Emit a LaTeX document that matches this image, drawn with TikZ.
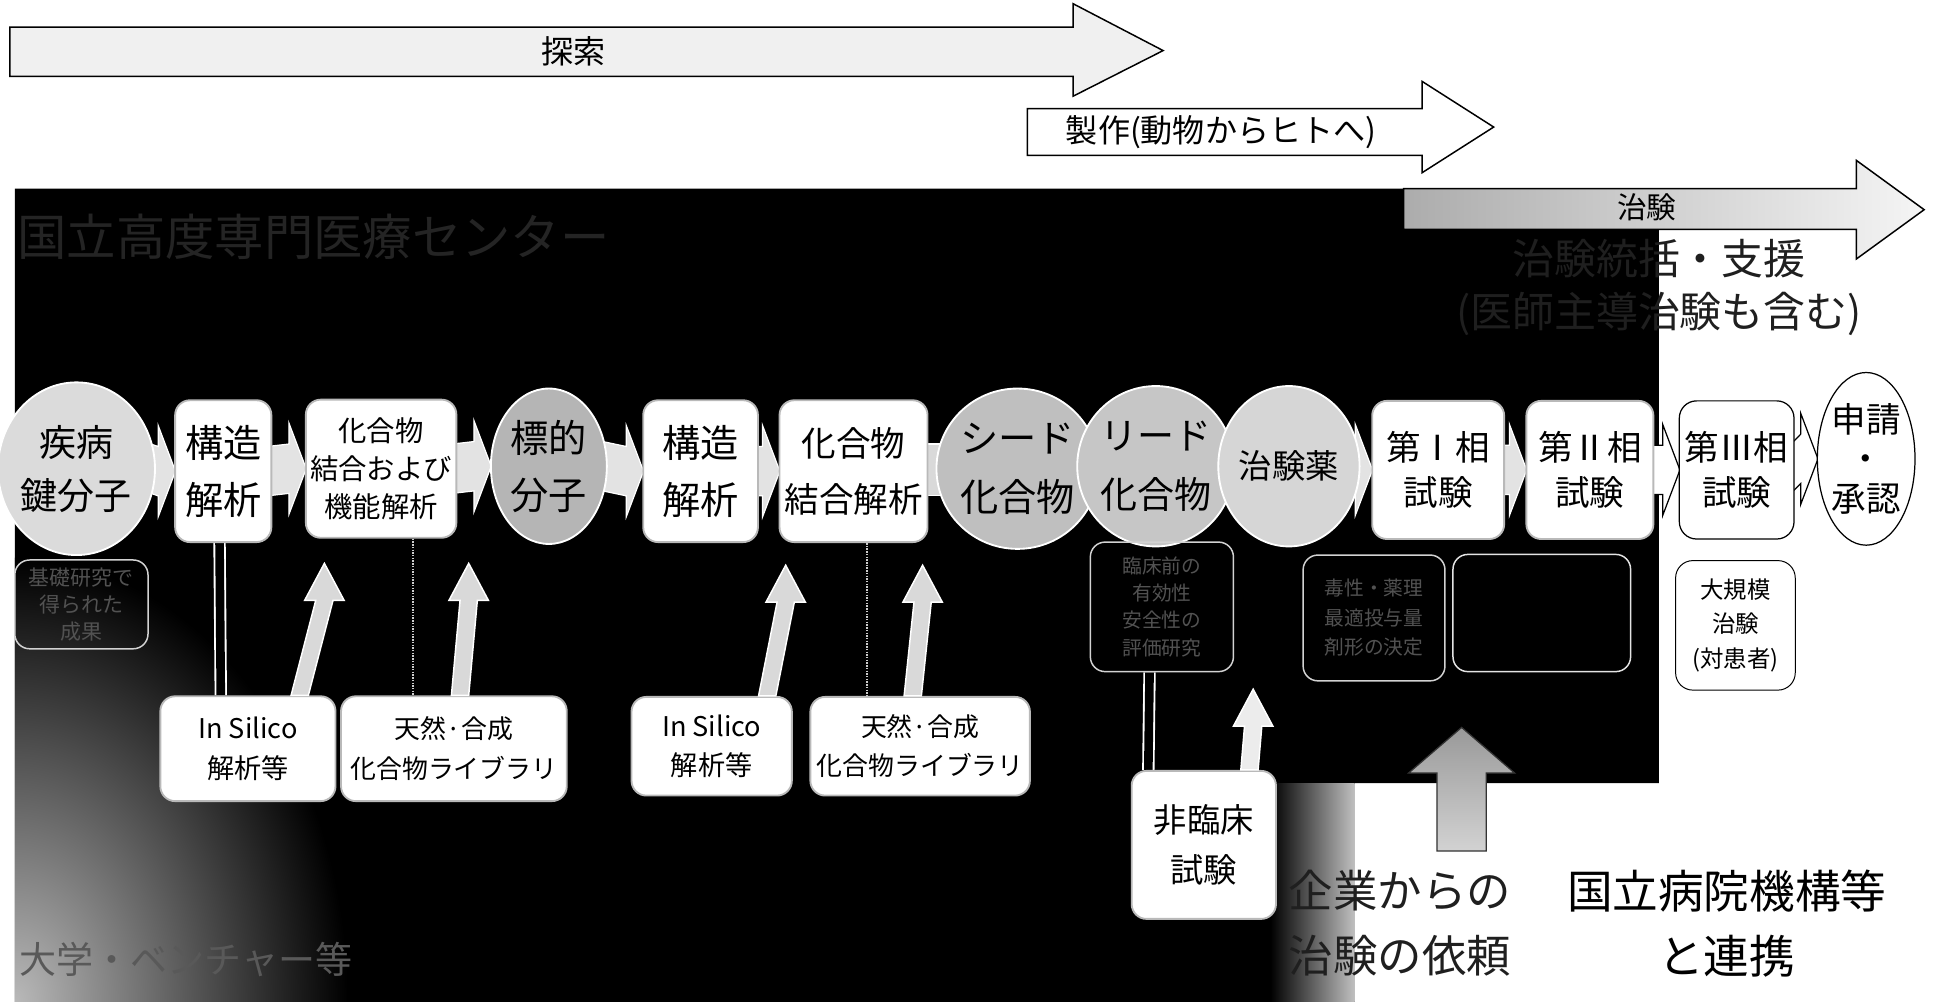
\documentclass[tikz,border=0pt]{standalone}
\usepackage{fontspec}
\setmainfont{Noto Sans CJK JP}
\usetikzlibrary{shapes.geometric,calc}
\pgfdeclarelayer{back}
\pgfdeclarelayer{mid}
\pgfsetlayers{back,mid,main}
\newcommand\fsz[2]{\fontsize{#1}{#2}\selectfont}
\newcommand\chv[3][chev]{%
  \draw[#1] ($(#2.east)+(-4,-20)$) -- ($(#3.west)+(-13,-20)$) -- ($(#3.west)+(-13,-37)$) -- ($(#3.west)+(1,0)$) -- ($(#3.west)+(-13,37)$) -- ($(#3.west)+(-13,20)$) -- ($(#2.east)+(-4,20)$) -- cycle;}
\newcommand\upar[3][upa]{%
  \draw[#1] ($(#2)+(-7,0)$) -- ($(#3)+(-7,30)$) -- ($(#3)+(-16,30)$) -- (#3) -- ($(#3)+(16,30)$) -- ($(#3)+(7,30)$) -- ($(#2)+(7,0)$) -- cycle;}
\begin{document}
\begin{tikzpicture}[x=1pt,y=-1pt,
  rbox/.style={draw=gray!55, line width=1.5pt, fill=white, rounded corners=12pt, align=center, inner sep=0pt},
  wbox/.style={draw=black, line width=1pt, fill=white, rounded corners=14pt, align=center, inner sep=0pt},
  ovl/.style={ellipse, draw=white, line width=1.5pt, align=center, inner sep=0pt},
  faintbox/.style={draw=gray!35, line width=1.2pt, rounded corners=12pt, align=center, inner sep=0pt, text=white!32!black},
  chev/.style={draw=white, line width=1pt, fill=gray!22},
  chevw/.style={draw=black, line width=1pt, fill=white},
  bar/.style={draw=white, line width=1pt, fill=gray!30},
  upa/.style={draw=white, line width=1.2pt, fill=gray!30},
  pipe/.style={draw=white, double=black, double distance=7pt, line width=1.5pt},
  fline/.style={draw=gray!40, densely dotted, line width=1.2pt},
  toparrow/.style={draw=black, line width=1.2pt},
]
\useasboundingbox (0,0) rectangle (1568,812);
\begin{pgfonlayer}{back}
\fill[white] (0,0) rectangle (1568,812);
\fill[black] (12,153) -- (1345,153) -- (1345,635) -- (1098,635) -- (1098,816) -- (12,816) -- cycle;
\begin{scope}
\clip (12,153) rectangle (1098,816);
\shade[inner color=gray!55, outer color=black] (12,812) ellipse (270 and 360);
\end{scope}
\shade[left color=black, right color=gray!50] (1030,635) rectangle (1098,816);
\end{pgfonlayer}

% top phase arrows
\draw[toparrow, fill=gray!12] (8,22) -- (870,22) -- (870,3) -- (943,41) -- (870,78) -- (870,62) -- (8,62) -- cycle;
\node[font=\fsz{26}{28}] (tansaku) at (465,42) {探索};
\draw[toparrow, fill=white] (833,88) -- (1153,88) -- (1153,66) -- (1211,103) -- (1153,140) -- (1153,126) -- (833,126) -- cycle;
\node[font=\fsz{26}{28}] (seisaku) at (990,107) {製作(動物からヒトへ)};
\path[toparrow, left color=gray!65, right color=gray!8] (1138,153) -- (1505,153) -- (1505,130) -- (1560,170) -- (1505,210) -- (1505,186) -- (1138,186) -- cycle;
\node[font=\fsz{24}{26}] (chiken) at (1335,168) {治験};

% faint texts in the black area
\node[font=\fsz{40}{42}, text=white!14!black, anchor=west, inner sep=0] (ttl) at (14,192) {国立高度専門医療センター};
\node[font=\fsz{30}{32}, text=white!35!black, anchor=west, inner sep=0] (ven) at (16,778) {大学・ベンチャー等};
\node[font=\fsz{34}{43}, align=center, text=black!88, inner sep=0] (t3) at (1345,233) {治験統括・支援\\(医師主導治験も含む)};

% main row
\node[ovl, fill=gray!28, minimum width=104, minimum height=140, font=\fsz{30}{43}] (n1) at (62,380) {疾病\\鍵分子};
\node[rbox, minimum width=78, minimum height=115, font=\fsz{31}{46}] (n2) at (181,382) {構造\\解析};
\node[rbox, minimum width=122, minimum height=112, font=\fsz{23}{31}] (n3) at (309,380) {化合物\\結合および\\機能解析};
\node[ovl, fill=gray!58, minimum width=94, minimum height=126, font=\fsz{31}{46}] (n4) at (445,378) {標的\\分子};
\node[rbox, minimum width=93, minimum height=115, font=\fsz{31}{46}] (n5) at (568,382) {構造\\解析};
\node[rbox, minimum width=120, minimum height=115, font=\fsz{28}{45}] (n6) at (692,382) {化合物\\結合解析};
\node[ovl, fill=gray!50, minimum width=110, minimum height=130, font=\fsz{31}{48}] (n7) at (825,380) {シード\\化合物};
\node[ovl, fill=gray!45, minimum width=100, minimum height=130, font=\fsz{30}{48}] (n8) at (937,378) {リード\\化合物};
\node[ovl, fill=gray!32, minimum width=100, minimum height=130, font=\fsz{27}{32}] (n9) at (1045,378) {治験薬};
\node[rbox, minimum width=107, minimum height=112, font=\fsz{28}{37}] (n10) at (1166,381) {第Ⅰ相\\試験};
\node[rbox, minimum width=103, minimum height=112, font=\fsz{28}{37}] (n11) at (1289,381) {第Ⅱ相\\試験};
\node[wbox, minimum width=93, minimum height=112, font=\fsz{28}{37}] (n12) at (1408,381) {第Ⅲ相\\試験};
\node[ovl, draw=black, line width=1pt, fill=white, minimum width=72, minimum height=140, font=\fsz{28}{32}] (n13) at (1513,372) {申請\\・\\承認};

% lower boxes
\node[faintbox, minimum width=108, minimum height=72, font=\fsz{17}{22}] (b1) at (66,490) {基礎研究で\\得られた\\成果};
\node[rbox, minimum width=142, minimum height=85, font=\fsz{22}{32}] (is1) at (201,607) {In Silico\\解析等};
\node[rbox, minimum width=183, minimum height=85, font=\fsz{21}{32}] (lib1) at (368,607) {天然·合成\\化合物ライブラリ};
\node[rbox, minimum width=130, minimum height=80, font=\fsz{22}{32}] (is2) at (577,605) {In Silico\\解析等};
\node[rbox, minimum width=178, minimum height=80, font=\fsz{21}{32}] (lib2) at (746,605) {天然·合成\\化合物ライブラリ};
\node[faintbox, minimum width=116, minimum height=105, font=\fsz{16}{22}] (b2) at (942,492) {臨床前の\\有効性\\安全性の\\評価研究};
\node[faintbox, minimum width=115, minimum height=102, font=\fsz{16}{24}] (b3) at (1114,501) {毒性・薬理\\最適投与量\\剤形の決定};
\node[faintbox, draw=gray!22, minimum width=144, minimum height=95] (b4) at (1250,497) {};
\node[wbox, line width=0.8pt, minimum width=97, minimum height=105, font=\fsz{19}{28}] (lg) at (1407,507) {大規模\\治験\\(対患者)};
\node[rbox, minimum width=117, minimum height=120, font=\fsz{27}{40}] (nc) at (976,685) {非臨床\\試験};

% bottom texts
\node[font=\fsz{36}{53}, align=center, text=black!88, anchor=north, inner sep=0] (t1) at (1135,705) {企業からの\\治験の依頼};
\node[font=\fsz{37}{53}, align=center, anchor=north, inner sep=0] (t2) at (1400,705) {国立病院機構等\\と連携};

% connectors
\begin{pgfonlayer}{mid}
\chv{n1}{n2}
\chv{n2}{n3}
\chv{n3}{n4}
\chv{n4}{n5}
\chv{n5}{n6}
\draw[bar] ($(n6.east)+(-3,-22)$) rectangle ($(n7.west)+(12,22)$);
\draw[bar] ($(n7.east)+(-12,-22)$) rectangle ($(n8.west)+(12,22)$);
\chv{n8}{n9}
\chv{n9}{n10}
\chv{n10}{n11}
\chv[chevw]{n11}{n12}
\chv[chevw]{n12}{n13}
\draw[pipe] ($(n2.south)+(-3,0)$) -- ($(is1.north)+(-22,0)$);
\draw[pipe] ($(b2.south)+(-10,0)$) -- ($(nc.north)+(-45,0)$);
\draw[fline] ($(n3.south)+(26,0)$) -- ($(lib1.north)+(-33,0)$);
\draw[fline] ($(n6.south)+(11,0)$) -- ($(lib2.north)+(-43,0)$);
\end{pgfonlayer}

\coordinate (a1b) at ($(is1.north)+(42,0)$);
\coordinate (a1t) at ($(n3.south)+(-46,20)$);
\coordinate (a2b) at ($(lib1.north)+(5,0)$);
\coordinate (a2t) at ($(n3.south)+(71,20)$);
\coordinate (a3b) at ($(is2.north)+(45,0)$);
\coordinate (a3t) at ($(n6.south)+(-55,18)$);
\coordinate (a4b) at ($(lib2.north)+(-6,0)$);
\coordinate (a4t) at ($(n6.south)+(56,18)$);
\coordinate (a5b) at ($(nc.north)+(37,0)$);
\coordinate (a5t) at ($(n9.south)+(-29,115)$);
\upar{a1b}{a1t}
\upar{a2b}{a2t}
\upar{a3b}{a3t}
\upar{a4b}{a4t}
\upar[upa, fill=gray!15]{a5b}{a5t}

\coordinate (a6b) at ($(t1.north)+(50,-15)$);
\coordinate (a6t) at ($(n10.south)+(19,152)$);
\draw[draw=black!80, line width=1pt, top color=gray!80, bottom color=gray!35]
  ($(a6b)+(-20,0)$) -- ($(a6t)+(-20,37)$) -- ($(a6t)+(-43,37)$) -- (a6t) -- ($(a6t)+(43,37)$) -- ($(a6t)+(20,37)$) -- ($(a6b)+(20,0)$) -- cycle;
\end{tikzpicture}
\end{document}
